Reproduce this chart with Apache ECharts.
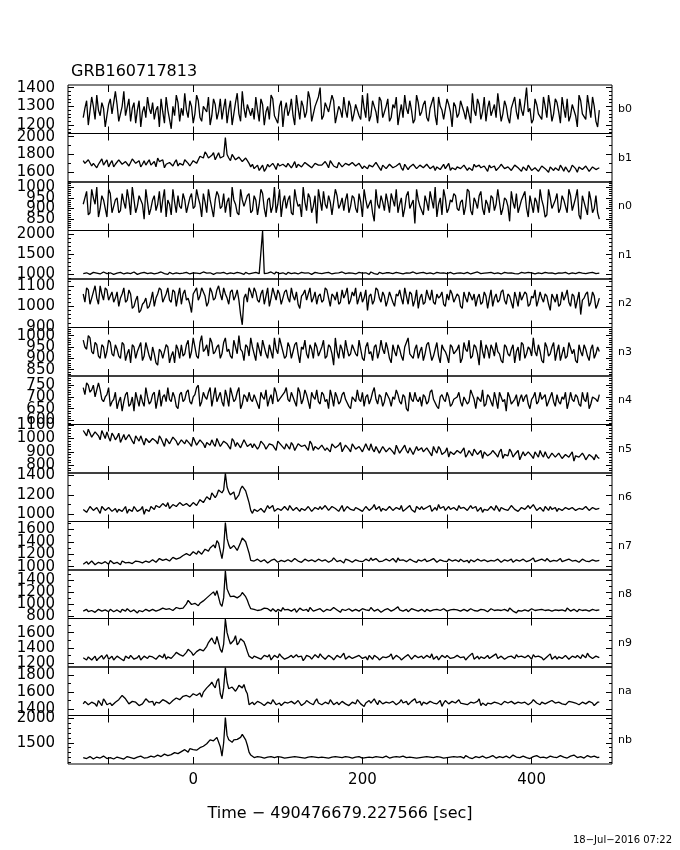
<!DOCTYPE html>
<html>
<head>
<meta charset="utf-8">
<script src="https://cdn.jsdelivr.net/npm/echarts@6/dist/echarts.min.js"></script>
<style>
html,body{margin:0;padding:0;background:#fff;}
#c{width:680px;height:850px;}
</style>
</head>
<body>
<div id="c"></div>
<script>
// ---- data ----
const title = 'GRB160717813';
const xTitle = 'Time \u2212 490476679.227566 [sec]';
const dateText = '18\u2212Jul\u22122016 07:22';
const detectors = ['b0','b1','n0','n1','n2','n3','n4','n5','n6','n7','n8','n9','na','nb'];
// Rates are stored as two interleaved bin sets:
//   "A" arrays: bins at t = -130, -126, ..., 478 s
//   "B" arrays: bins at t = -128, -124, ..., 480 s
const tStartA = -130, tStartB = -128, tStep = 4;
const xMin = -148, xMax = 495;
const xTickValues = [-100, 0, 100, 200, 300, 400];
const xLabelValues = [0, 200, 400];

const yMin = [1155, 1490, 797, 875, 897, 822, 583, 741, 926, 946, 757, 1147, 1322, 1069];
const yMax = [1414, 2036, 1024, 2082, 1133, 1036, 789, 1105, 1424, 1726, 1564, 1787, 1898, 2054];
const yLabels = [
  [1200,1300,1400],
  [1600,1800,2000],
  [850,900,950,1000],
  [1000,1500,2000],
  [900,1000,1100],
  [850,900,950,1000],
  [600,650,700,750],
  [800,900,1000,1100],
  [1000,1200,1400],
  [1000,1200,1400,1600],
  [800,1000,1200,1400],
  [1200,1400,1600],
  [1400,1600,1800],
  [1500,2000]
];
const yMinorStep = [20,100,10,100,20,10,10,20,100,100,100,100,100,100];

const b0A = [1240,1330,1210,1300,1360,1250,1290,1200,1340,1270,
1310,1230,1380,1260,1220,1320,1280,1190,1300,1350,
1260,1230,1300,1340,1210,1280,1180,1250,1320,1290,
1370,1240,1300,1260,1330,1220,1290,1350,1250,1310,
1270,1230,1340,1280,1200,1320,1260,1380,1240,1300,
1290,1350,1220,1310,1270,1230,1340,1260,1300,1190,
1320,1280,1250,1360,1230,1300,1270,1340,1210,1290,
1400,1250,1310,1270,1330,1220,1280,1350,1240,1300,
1260,1320,1230,1290,1370,1250,1300,1210,1330,1270,
1340,1240,1290,1200,1310,1360,1260,1280,1230,1320,
1270,1330,1220,1300,1250,1350,1280,1240,1310,1190,
1300,1260,1340,1230,1290,1370,1250,1310,1270,1220,
1330,1280,1240,1360,1260,1300,1210,1320,1270,1340,
1250,1400,1290,1230,1310,1270,1350,1240,1300,1260,
1320,1210,1290,1340,1250,1300,1190,1330,1270,1360,
1240,1300,1190];
const b0B = [1290,1200,1350,1230,1280,1320,1190,1310,1260,1380,
1220,1300,1250,1340,1290,1210,1330,1270,1240,1290,
1320,1280,1190,1270,1350,1230,1300,1360,1220,1250,
1280,1330,1210,1360,1240,1300,1270,1200,1340,1230,
1340,1290,1210,1330,1260,1370,1220,1290,1310,1250,
1230,1280,1340,1200,1300,1360,1250,1210,1330,1280,
1250,1340,1200,1290,1330,1240,1380,1220,1300,1350,
1230,1320,1270,1360,1210,1300,1240,1280,1330,1220,
1310,1250,1360,1240,1220,1330,1270,1350,1240,1300,
1220,1310,1350,1260,1240,1290,1330,1210,1360,1250,
1310,1240,1290,1350,1200,1300,1230,1340,1270,1320,
1240,1330,1270,1300,1210,1280,1340,1230,1350,1290,
1250,1310,1370,1220,1330,1240,1290,1350,1230,1280,
1320,1270,1210,1340,1260,1230,1300,1360,1220,1340,
1270,1350,1240,1220,1310,1250,1360,1260,1230,1300,
1350,1220,1280];

const b1A = [1730,1690,1760,1700,1650,1720,1680,1740,1700,1660,
1710,1750,1680,1720,1690,1740,1700,1660,1730,1710,
1680,1720,1760,1700,1650,1690,1730,1710,1670,1720,
1740,1700,1690,1750,1720,1800,1830,1760,1790,1740,
1820,1770,1990,1760,1800,1740,1770,1720,1760,1700,
1690,1650,1620,1680,1640,1660,1700,1630,1670,1690,
1660,1710,1680,1650,1700,1670,1720,1680,1640,1690,
1700,1660,1690,1730,1670,1650,1700,1680,1720,1660,
1690,1650,1710,1670,1640,1690,1660,1700,1620,1680,
1660,1700,1640,1680,1650,1690,1630,1670,1700,1650,
1670,1630,1690,1650,1620,1680,1660,1640,1700,1650,
1630,1670,1640,1690,1650,1620,1660,1680,1630,1650,
1680,1640,1620,1660,1690,1630,1650,1610,1670,1640,
1660,1620,1680,1640,1650,1600,1670,1630,1660,1620,
1640,1680,1610,1650,1630,1670,1600,1660,1640,1690,
1620,1670,1640];
const b1B = [1700,1740,1670,1720,1690,1750,1710,1660,1730,1690,
1740,1690,1720,1670,1750,1700,1730,1690,1680,1740,
1700,1660,1720,1740,1690,1710,1670,1740,1700,1680,
1720,1670,1730,1700,1780,1760,1800,1740,1820,1780,
1760,1780,1800,1730,1780,1720,1750,1700,1730,1660,
1640,1680,1650,1610,1690,1640,1670,1700,1650,1680,
1700,1650,1720,1690,1660,1710,1680,1650,1700,1680,
1680,1720,1650,1700,1690,1710,1660,1700,1680,1710,
1670,1700,1640,1690,1680,1660,1710,1650,1680,1640,
1690,1650,1670,1700,1620,1680,1660,1690,1640,1680,
1650,1690,1640,1670,1660,1630,1690,1660,1620,1670,
1660,1640,1680,1620,1670,1690,1640,1650,1670,1610,
1650,1670,1630,1690,1640,1660,1620,1680,1650,1610,
1640,1680,1620,1650,1610,1670,1640,1600,1680,1650,
1620,1650,1660,1600,1680,1640,1660,1630,1670,1610,
1660,1630,1650];

const n0A = [920,980,880,950,1000,900,940,860,970,910,
950,890,930,990,870,940,910,960,850,930,
900,960,920,880,990,940,870,930,960,900,
940,880,970,910,950,860,930,990,900,940,
960,910,880,950,1000,920,870,940,910,970,
890,940,920,970,860,950,910,880,990,930,
900,960,870,940,920,1000,890,950,910,830,
940,980,900,930,870,960,920,890,970,910,
950,880,930,990,900,940,840,920,960,890,
930,970,910,880,950,900,980,920,830,940,
910,960,890,940,1000,920,870,950,900,930,
960,890,940,910,980,870,930,960,900,940,
880,950,920,990,900,940,840,930,970,910,
940,900,960,880,930,990,910,870,950,920,
970,900,940,880,960,920,990,850,930,870,
940,900,880];
const n0B = [950,870,990,920,860,960,900,990,880,940,
880,970,900,940,1000,880,960,920,990,870,
940,890,980,940,860,920,990,880,910,970,
880,950,900,990,920,970,880,940,860,980,
900,970,930,860,940,880,990,910,960,880,
960,870,990,900,940,880,1000,920,860,960,
940,880,990,910,860,930,970,880,960,990,
890,920,960,870,990,900,950,940,880,960,
900,970,860,940,920,880,990,900,930,970,
880,940,990,920,860,960,900,940,990,910,
870,930,980,900,860,950,990,880,940,970,
900,930,870,990,890,950,900,980,870,920,
960,890,990,870,950,910,980,900,880,940,
980,860,920,950,880,940,860,990,900,940,
880,960,910,990,890,950,870,960,900,980,
880,960,850];

const n1A = [1010,1030,990,1040,1020,1000,1050,1010,1030,990,
1020,1040,1000,1030,1010,1050,990,1020,1040,1010,
1030,1000,1020,1050,1010,990,1030,1020,1000,1040,
1010,1030,1020,990,1040,1010,1030,1000,1050,1020,
1000,1030,1010,1040,1020,990,1030,1010,1040,1000,
1020,1040,1010,2070,1000,1030,1020,1050,1010,1030,
990,1030,1020,1040,1010,1000,1050,1020,1030,1010,
1040,1000,1020,1030,990,1050,1010,1030,1020,1000,
1030,1010,1040,1000,1020,1050,1010,990,1030,1020,
1010,1040,1000,1030,1020,990,1040,1010,1030,1000,
1020,1050,1010,1030,1000,1040,1020,990,1030,1010,
1040,1000,1030,1010,1050,1020,990,1030,1010,1040,
1000,1030,1020,1060,1010,1030,990,1020,1040,1010,
1030,1010,1000,1040,1020,1030,990,1050,1010,1020,
1000,1040,1010,1030,1020,990,1030,1010,1040,1000,
1020,1030,1000];
const n1B = [1030,1000,1020,1040,990,1030,1010,1040,1000,1020,
1040,1010,1030,990,1020,1040,1010,1030,1000,1050,
1010,1040,990,1030,1020,1040,1000,1030,1010,1020,
1040,1000,1030,1020,1010,1050,1020,1030,990,1030,
1020,1040,1000,1030,1010,1040,1020,990,1030,1020,
1000,1030,1040,1010,1020,1050,1000,1030,1020,1000,
1040,1010,1030,1000,1040,1020,1030,990,1040,1020,
1010,1030,1040,1000,1020,1030,1050,1010,1030,1020,
1000,1040,1020,1030,990,1030,1020,1040,1010,1030,
1030,1010,1040,1020,1000,1030,1020,1050,1010,1030,
1040,1010,1030,1000,1040,1020,1030,1010,1040,1000,
1020,1030,1010,1040,1000,1030,1050,1010,1020,1030,
1040,1010,1030,1000,1040,1020,1030,1010,1000,1040,
1020,1040,1030,1000,1030,1010,1040,1020,1030,1000,
1030,1020,1040,1000,1030,1010,1040,1020,1010,1030,
1040,1010,1020];

const n2A = [1060,1090,1010,1070,1040,1100,1030,1080,1050,1020,
1070,1040,1090,1030,1060,1000,1050,980,1020,990,
1030,1000,1060,1080,1040,1090,1020,1070,1050,1010,
1080,1040,970,1060,1030,1090,1050,1020,1070,1040,
1100,1030,1060,1010,1080,1050,1030,910,1060,1090,
1040,1070,1020,1080,1050,1000,1090,1030,1060,1040,
1080,1020,1050,1070,990,1060,1030,1090,1040,1010,
1060,1030,1080,1000,1050,1070,1020,1040,1090,1030,
1050,1010,1070,1040,980,1060,1030,1080,1020,1050,
1030,1070,1000,1050,1040,1090,1010,1060,1030,990,
1060,1020,1050,1080,1010,1040,1070,1000,1030,1060,
1020,1050,990,1040,1070,1030,1000,1060,1020,1050,
1040,1000,1060,1030,1080,1010,1050,990,1040,1070,
1030,1060,1010,1040,1000,1070,1020,1050,980,1040,
1060,1010,1030,1080,1000,1050,1030,960,1040,1070,
1020,1050,1010];
const n2B = [1020,1080,1040,1100,1010,1060,1090,1030,1070,1040,
1000,1060,1020,1080,990,1030,970,1010,1040,1000,
1070,1040,1090,1020,1060,1030,1080,1000,1090,1060,
1030,1010,1060,1090,1050,1070,1000,1090,1030,1080,
1060,1090,1040,1070,1030,1080,960,1040,1020,1070,
1090,1030,1060,1010,1090,1040,1060,1080,1010,1070,
1040,1090,1030,1010,1050,1080,1060,1020,1070,1050,
1020,1090,1040,1060,1030,1010,1080,1060,1010,1070,
1090,1040,1020,1080,1050,1010,1090,1040,1070,1000,
1070,1020,1060,1080,1010,1050,1070,1000,1080,1040,
1010,1080,1030,1020,1060,1050,1010,1060,1080,1020,
1060,1000,1070,1020,1050,1060,1040,1010,1070,990,
1080,1040,1020,1070,1030,1060,1020,1070,1000,1030,
1070,1000,1050,1080,1030,1040,1060,1010,1060,1020,
1000,1070,1050,1020,1060,990,1070,1030,1060,1000,
1070,990,1040];

const n3A = [980,940,990,920,960,900,950,930,970,910,
940,900,960,920,880,950,930,970,910,940,
890,920,870,930,900,950,910,880,940,960,
920,980,930,950,900,1000,940,910,970,930,
960,920,990,940,900,950,1000,930,960,910,
950,890,940,980,920,960,900,940,990,930,
910,950,930,970,880,940,920,960,900,950,
930,980,910,950,870,930,960,900,940,920,
960,910,940,890,970,930,950,900,980,920,
940,880,930,960,910,950,990,920,940,900,
950,920,970,890,940,910,960,930,880,950,
920,960,900,940,980,910,950,870,930,960,
900,940,970,920,880,950,910,960,930,890,
960,920,940,990,910,930,880,950,920,970,
930,890,950,910,970,940,880,930,960,910,
940,900,950];
const n3B = [950,1000,930,970,910,960,900,980,920,960,
910,970,890,940,960,900,950,890,970,910,
950,880,940,900,960,880,930,960,900,910,
960,900,990,910,970,930,960,990,920,950,
900,970,930,910,980,920,940,890,950,990,
920,970,910,950,900,930,990,920,960,900,
970,900,960,920,950,980,900,940,970,910,
950,900,960,920,990,900,940,980,910,960,
920,980,900,950,920,890,960,930,940,970,
900,960,910,940,890,970,920,900,960,930,
890,960,930,910,970,880,940,910,960,920,
940,880,970,930,900,960,920,980,900,940,
960,910,930,890,960,920,940,880,950,970,
900,950,910,930,960,890,970,910,950,890,
960,920,900,970,920,890,960,910,940,890,
960,920,930];

const n4A = [740,760,720,750,700,730,680,710,660,690,
650,700,680,720,670,640,690,710,660,700,
680,720,690,660,710,740,680,700,650,720,
690,730,670,710,750,680,700,720,660,740,
700,680,730,660,710,690,740,670,700,720,
680,710,650,700,730,690,670,720,680,700,
740,680,700,660,720,690,710,650,700,730,
670,710,690,730,660,700,680,720,690,650,
700,730,680,660,710,690,740,670,700,680,
720,660,690,710,670,700,640,690,720,680,
660,700,680,730,690,650,710,680,700,670,
690,720,660,700,680,710,650,690,730,670,
700,660,690,720,680,640,700,670,710,690,
680,710,650,700,670,720,690,660,700,680,
710,670,690,650,720,680,700,660,690,720,
670,700,680];
const n4B = [710,750,730,700,760,690,700,740,680,720,
680,640,710,660,700,720,660,680,740,670,
710,650,730,700,680,690,720,660,710,680,
720,680,700,740,660,720,690,740,700,680,
720,660,700,740,680,720,650,710,680,690,
710,670,720,690,660,710,740,680,700,720,
690,720,680,740,670,730,680,720,690,680,
720,680,650,700,720,670,710,690,660,700,
680,690,720,700,670,720,690,710,660,720,
690,700,730,680,710,650,720,680,690,700,
710,670,720,690,660,700,690,720,660,690,
700,680,700,670,730,690,700,680,660,710,
680,720,650,700,690,720,670,690,660,710,
700,670,690,720,680,690,710,680,720,660,
680,700,720,680,690,710,670,720,680,650,
700,690,710];

const n5A = [1060,1020,1070,1000,1040,990,1030,1050,980,1020,
1010,970,1030,990,1040,960,1000,1020,950,990,
980,1010,960,1000,940,990,970,1010,950,990,
960,1000,940,980,950,1000,930,970,990,940,
970,930,990,950,1000,940,960,920,980,950,
930,970,940,990,920,960,950,910,970,940,
960,920,950,900,970,930,940,980,910,950,
920,960,930,900,950,920,970,910,940,900,
940,910,950,890,930,960,900,930,880,920,
910,940,880,920,900,950,890,920,870,910,
930,890,920,870,910,940,880,900,860,910,
880,920,890,860,910,870,930,890,850,900,
870,910,880,900,850,890,920,860,880,840,
900,860,890,850,880,910,860,870,840,890,
860,880,840,890,860,830,880,850,870,830,
870,840,860];
const n5B = [1040,1070,1010,1050,1020,1060,1000,1010,1040,990,
1040,1000,990,1030,980,1020,980,1030,1000,970,
1000,980,1020,970,1000,960,1010,980,970,1000,
990,960,1010,950,990,960,970,950,960,1000,
940,980,960,920,980,970,930,990,940,960,
960,920,980,950,940,970,930,980,950,920,
940,970,910,960,940,950,910,960,940,920,
950,910,940,960,930,950,900,950,920,960,
920,940,900,960,910,920,940,890,940,900,
930,900,950,890,930,910,930,880,940,900,
900,930,890,940,890,920,870,930,900,880,
910,890,930,880,900,920,880,910,900,870,
890,900,860,920,880,870,900,880,910,870,
870,900,870,900,860,880,900,850,890,860,
890,850,880,860,900,870,860,890,840,880,
860,880,850];

const n6A = [1050,1020,1080,1040,1070,1010,1060,1030,1090,1040,
1020,1070,1040,1010,1060,1080,1030,1050,1000,1060,
1080,1050,1100,1060,1090,1120,1070,1100,1060,1110,
1090,1130,1100,1140,1110,1160,1130,1190,1220,1170,
1250,1220,1420,1230,1180,1150,1200,1290,1240,1120,
1010,1070,1040,1080,1030,1060,1090,1040,1070,1020,
1060,1090,1040,1070,1030,1080,1050,1100,1040,1060,
1080,1030,1070,1050,1100,1040,1060,1030,1080,1050,
1040,1090,1060,1030,1070,1050,1100,1060,1030,1080,
1050,1070,1030,1060,1090,1040,1070,1050,1020,1060,
1080,1040,1060,1030,1070,1100,1050,1040,1080,1030,
1060,1090,1040,1070,1030,1060,1080,1050,1020,1070,
1040,1060,1090,1030,1070,1050,1030,1080,1060,1040,
1070,1030,1060,1100,1040,1070,1030,1060,1080,1050,
1030,1070,1050,1080,1040,1060,1020,1070,1050,1080,
1040,1060,1030];
const n6B = [1070,1040,1060,1020,1050,1080,1040,1070,1030,1060,
1050,1030,1080,1050,1030,1060,1040,1080,1050,1030,
1060,1090,1070,1110,1080,1060,1100,1080,1120,1090,
1110,1080,1120,1090,1150,1120,1180,1150,1240,1200,
1270,1250,1280,1200,1230,1170,1260,1300,1180,1040,
1050,1030,1060,1020,1090,1050,1030,1060,1040,1080,
1040,1070,1050,1090,1060,1040,1080,1030,1070,1050,
1050,1090,1040,1080,1060,1030,1090,1050,1060,1030,
1070,1050,1030,1080,1040,1070,1050,1080,1060,1040,
1080,1040,1070,1050,1030,1060,1090,1030,1080,1050,
1050,1070,1090,1050,1040,1060,1080,1060,1050,1070,
1040,1060,1070,1040,1090,1050,1030,1070,1050,1040,
1080,1040,1060,1070,1050,1040,1090,1050,1030,1070,
1050,1090,1040,1070,1060,1050,1080,1040,1050,1070,
1060,1040,1070,1050,1070,1040,1060,1050,1080,1040,
1070,1050,1060];

const n7A = [1040,1080,1020,1070,1050,1090,1030,1060,1100,1050,
1070,1030,1080,1050,1090,1040,1070,1110,1060,1080,
1090,1120,1080,1140,1110,1150,1100,1170,1130,1160,
1190,1230,1170,1220,1250,1200,1280,1250,1320,1300,
1380,1130,1710,1350,1300,1320,1280,1460,1400,1220,
1130,1090,1120,1080,1110,1060,1100,1130,1070,1110,
1090,1120,1070,1130,1100,1060,1110,1080,1140,1090,
1110,1070,1120,1090,1140,1080,1100,1060,1120,1090,
1080,1130,1100,1070,1110,1140,1090,1120,1060,1100,
1120,1080,1110,1140,1070,1100,1090,1130,1080,1110,
1090,1120,1060,1100,1130,1080,1110,1070,1120,1090,
1110,1080,1140,1090,1060,1110,1100,1130,1070,1100,
1080,1120,1090,1110,1060,1130,1100,1070,1110,1090,
1120,1080,1100,1140,1090,1070,1110,1130,1080,1100,
1090,1130,1070,1100,1120,1080,1110,1090,1140,1100,
1080,1110,1090];
const n7B = [1060,1040,1090,1030,1070,1050,1080,1040,1070,1060,
1050,1090,1060,1070,1050,1090,1080,1060,1090,1070,
1110,1070,1130,1100,1120,1090,1150,1120,1140,1180,
1210,1180,1240,1200,1230,1230,1260,1300,1350,1420,
1250,1300,1450,1290,1340,1260,1390,1430,1310,1100,
1090,1120,1080,1110,1060,1100,1120,1070,1100,1080,
1110,1080,1130,1090,1070,1120,1090,1110,1080,1120,
1090,1110,1070,1100,1130,1090,1080,1120,1100,1070,
1110,1090,1080,1120,1090,1100,1130,1080,1090,1120,
1090,1130,1070,1100,1110,1080,1120,1090,1070,1120,
1110,1080,1100,1130,1070,1110,1090,1080,1100,1120,
1090,1120,1080,1100,1110,1080,1120,1090,1110,1080,
1100,1090,1120,1070,1110,1090,1120,1090,1080,1120,
1090,1110,1120,1080,1100,1120,1090,1110,1070,1120,
1110,1080,1100,1120,1090,1100,1070,1120,1090,1080,
1110,1090,1100];

const n8A = [880,910,860,900,870,920,850,890,910,870,
900,860,890,920,870,900,850,910,880,900,
890,920,880,910,940,900,930,910,950,920,
960,1060,990,1010,970,1030,1070,1120,1180,1140,
1230,960,1550,1180,1090,1150,1070,1190,1120,980,
900,930,880,910,950,890,920,870,910,940,
880,920,900,860,930,890,910,940,880,900,
920,870,910,890,940,900,860,920,890,910,
890,930,870,910,900,940,880,910,860,900,
920,880,910,950,890,900,870,920,900,880,
910,870,930,890,920,880,910,940,870,900,
890,920,880,900,860,930,900,870,910,890,
900,940,880,910,870,900,930,880,850,910,
880,910,890,930,870,900,920,880,910,890,
910,870,900,930,880,910,870,900,890,920,
880,900,890];
const n8B = [900,870,890,860,910,880,900,870,900,880,
870,910,880,900,880,920,890,870,910,880,
910,880,900,930,910,920,890,940,920,930,
1000,1030,980,990,1010,1050,1100,1150,1200,1220,
1000,1100,1250,1120,1130,1100,1140,1180,1060,920,
910,890,900,930,920,880,900,910,880,900,
910,880,920,890,900,920,870,910,900,890,
900,890,920,870,910,880,910,890,920,880,
910,880,920,900,890,910,870,930,890,910,
900,870,930,900,880,910,890,910,870,900,
890,910,880,900,910,890,920,880,900,910,
900,880,910,880,920,890,880,910,900,870,
920,890,900,890,910,880,900,910,890,880,
900,880,920,890,900,910,890,900,880,900,
890,900,880,910,900,880,910,890,900,880,
910,890,900];

const n9A = [1270,1240,1300,1260,1230,1280,1250,1310,1270,1240,
1290,1260,1230,1280,1300,1250,1270,1240,1290,1260,
1300,1270,1240,1290,1320,1280,1260,1310,1350,1330,
1300,1380,1340,1290,1360,1400,1380,1470,1530,1450,
1540,1340,1780,1520,1430,1560,1470,1500,1420,1290,
1260,1300,1270,1240,1290,1310,1260,1280,1320,1270,
1240,1290,1270,1310,1260,1230,1300,1280,1250,1290,
1320,1270,1250,1290,1240,1300,1270,1330,1260,1280,
1250,1290,1310,1260,1240,1280,1300,1270,1230,1290,
1270,1320,1260,1290,1240,1280,1310,1250,1300,1270,
1290,1250,1280,1320,1260,1240,1300,1270,1290,1250,
1280,1310,1260,1240,1290,1330,1270,1250,1300,1280,
1260,1290,1320,1250,1280,1240,1300,1270,1310,1260,
1290,1250,1280,1310,1260,1300,1240,1280,1320,1270,
1250,1290,1270,1310,1240,1280,1300,1260,1290,1330,
1270,1250,1290];
const n9B = [1250,1280,1240,1290,1260,1300,1270,1250,1290,1260,
1270,1240,1290,1260,1280,1240,1300,1260,1280,1290,
1280,1250,1300,1270,1250,1290,1280,1340,1310,1290,
1340,1360,1300,1350,1380,1360,1420,1500,1480,1550,
1380,1450,1600,1450,1500,1440,1520,1480,1350,1280,
1290,1270,1250,1300,1280,1240,1300,1270,1290,1250,
1270,1300,1250,1280,1290,1260,1290,1250,1310,1270,
1290,1250,1300,1270,1260,1290,1300,1250,1290,1260,
1280,1300,1260,1280,1300,1250,1290,1240,1280,1270,
1290,1250,1300,1270,1260,1300,1280,1270,1290,1250,
1260,1300,1270,1250,1290,1270,1280,1300,1260,1270,
1300,1270,1280,1260,1300,1250,1290,1280,1260,1300,
1270,1300,1260,1290,1250,1280,1290,1260,1280,1290,
1270,1300,1250,1280,1290,1270,1260,1300,1250,1290,
1280,1260,1300,1250,1290,1270,1280,1310,1270,1290,
1260,1290,1270];

const naA = [1460,1500,1440,1490,1430,1480,1520,1450,1470,1420,
1480,1530,1570,1490,1450,1500,1470,1430,1490,1510,
1460,1440,1500,1470,1520,1480,1450,1510,1540,1490,
1530,1570,1520,1600,1560,1540,1620,1670,1720,1650,
1760,1520,1890,1640,1660,1610,1680,1650,1620,1450,
1480,1440,1500,1460,1420,1490,1510,1450,1470,1430,
1490,1460,1510,1440,1480,1420,1500,1470,1450,1520,
1460,1430,1490,1510,1450,1480,1440,1500,1470,1420,
1480,1510,1460,1430,1490,1470,1520,1450,1480,1440,
1500,1460,1480,1430,1510,1470,1450,1490,1520,1460,
1440,1490,1470,1510,1450,1480,1430,1500,1460,1490,
1470,1510,1450,1480,1430,1490,1460,1520,1470,1440,
1490,1450,1500,1470,1430,1510,1460,1480,1440,1500,
1460,1490,1430,1510,1470,1450,1500,1440,1480,1520,
1450,1490,1470,1440,1510,1460,1480,1430,1500,1470,
1490,1440,1480];
const naB = [1490,1450,1480,1460,1500,1440,1490,1470,1440,1480,
1510,1560,1520,1460,1490,1480,1440,1460,1520,1480,
1490,1480,1470,1510,1490,1460,1500,1530,1510,1550,
1560,1540,1580,1560,1590,1600,1650,1690,1680,1730,
1580,1650,1720,1620,1650,1640,1660,1690,1580,1470,
1450,1490,1470,1440,1480,1460,1490,1470,1440,1480,
1470,1490,1460,1500,1440,1470,1490,1460,1490,1470,
1450,1480,1460,1490,1470,1450,1490,1460,1440,1480,
1460,1490,1440,1470,1500,1460,1480,1500,1460,1480,
1470,1490,1450,1480,1470,1490,1460,1480,1470,1490,
1480,1460,1490,1470,1460,1500,1470,1480,1440,1470,
1490,1470,1460,1450,1480,1470,1490,1440,1490,1470,
1460,1480,1470,1450,1490,1470,1490,1460,1480,1470,
1480,1450,1480,1490,1460,1480,1460,1480,1500,1470,
1480,1460,1450,1490,1480,1470,1450,1480,1460,1490,
1470,1460,1480];

const nbA = [1200,1180,1220,1170,1210,1190,1230,1180,1200,1170,
1210,1190,1170,1220,1200,1180,1210,1230,1190,1200,
1230,1210,1250,1220,1270,1240,1260,1300,1280,1320,
1360,1310,1400,1370,1340,1420,1450,1520,1580,1550,
1620,1230,2010,1560,1510,1600,1540,1670,1560,1310,
1220,1190,1240,1200,1180,1230,1210,1190,1240,1200,
1180,1220,1200,1230,1190,1210,1180,1240,1200,1190,
1220,1190,1210,1180,1230,1200,1220,1190,1240,1210,
1190,1230,1200,1180,1220,1210,1190,1240,1200,1220,
1210,1180,1230,1200,1250,1210,1190,1230,1200,1180,
1220,1200,1240,1190,1210,1230,1200,1180,1220,1210,
1190,1230,1210,1240,1200,1180,1220,1200,1230,1190,
1210,1240,1190,1220,1200,1230,1190,1250,1210,1200,
1230,1200,1180,1220,1240,1200,1210,1190,1230,1210,
1200,1240,1210,1190,1230,1250,1200,1220,1190,1240,
1210,1230,1200];
const nbB = [1190,1210,1190,1200,1180,1220,1200,1190,1180,1200,
1190,1180,1200,1210,1190,1200,1220,1200,1190,1220,
1220,1240,1230,1260,1240,1250,1290,1290,1300,1340,
1330,1380,1360,1350,1400,1430,1480,1560,1540,1610,
1420,1500,1650,1540,1560,1570,1610,1630,1450,1250,
1200,1220,1210,1190,1210,1220,1200,1220,1210,1190,
1200,1210,1220,1210,1200,1190,1210,1220,1210,1200,
1210,1200,1190,1210,1220,1210,1200,1220,1210,1190,
1210,1220,1190,1200,1210,1200,1220,1210,1200,1230,
1190,1210,1220,1210,1230,1200,1210,1200,1190,1200,
1210,1220,1210,1200,1220,1210,1190,1200,1210,1220,
1210,1220,1190,1220,1190,1200,1210,1220,1210,1200,
1220,1210,1200,1210,1210,1200,1220,1230,1200,1210,
1210,1190,1200,1230,1220,1210,1200,1210,1220,1200,
1220,1220,1200,1210,1240,1220,1210,1200,1210,1230,
1220,1210,1210];

const setA = [b0A,b1A,n0A,n1A,n2A,n3A,n4A,n5A,n6A,n7A,n8A,n9A,naA,nbA];
const setB = [b0B,b1B,n0B,n1B,n2B,n3B,n4B,n5B,n6B,n7B,n8B,n9B,naB,nbB];

// ---- build (t, rate) pairs by merging the two bin sets in time order ----
function mergeBins(a, b) {
  const out = [];
  for (let k = 0; k < Math.max(a.length, b.length); k++) {
    if (k < a.length) out.push([tStartA + k * tStep, a[k]]);
    if (k < b.length) out.push([tStartB + k * tStep, b[k]]);
  }
  return out;
}

// ---- layout ----
const FONT = 'DejaVu Sans';
const L = 68, R = 68, TOP = 85, H = 48.5;
function steps(a, b, s) {
  const out = [];
  for (let v = Math.ceil(a / s) * s; v <= b + 1e-9; v += s) out.push(v);
  return out;
}
const plain = v => String(v);
const grids = [], xAxes = [], yAxes = [], series = [];
const N = detectors.length;
const black = '#000';
for (let i = 0; i < N; i++) {
  grids.push({left: L, right: R, top: TOP + i * H, height: H, show: true,
    borderColor: black, borderWidth: 1, backgroundColor: 'transparent'});
  const isLast = i === N - 1;
  const xBase = {gridIndex: i, type: 'value', min: xMin, max: xMax,
    axisLine: {show: false, onZero: false}, splitLine: {show: false}};
  const xIndex = xAxes.length;
  xAxes.push(Object.assign({}, xBase, {position: 'bottom',
    axisTick: {show: true, inside: true, length: 7, customValues: xTickValues, lineStyle: {color: black, width: 1}},
    axisLabel: {show: isLast, customValues: xLabelValues, formatter: plain, color: black, fontFamily: FONT, fontSize: 15, margin: 9,
      showMinLabel: true, showMaxLabel: true},
    name: isLast ? xTitle : '', nameLocation: 'middle', nameGap: 42,
    nameTextStyle: {color: black, fontFamily: FONT, fontSize: 16}}));
  xAxes.push(Object.assign({}, xBase, {position: 'top',
    axisTick: {show: true, inside: true, length: 7, customValues: xTickValues, lineStyle: {color: black, width: 1}},
    axisLabel: {show: false}}));
  const minor = steps(yMin[i], yMax[i], yMinorStep[i]).filter(v => yLabels[i].indexOf(v) < 0);
  const yBase = {gridIndex: i, type: 'value', min: yMin[i], max: yMax[i],
    axisLine: {show: false, onZero: false}, splitLine: {show: false}};
  const yIndex = yAxes.length;
  // major ticks (left)
  yAxes.push(Object.assign({}, yBase, {position: 'left',
    axisTick: {show: true, inside: true, length: 6, customValues: yLabels[i], lineStyle: {color: black}},
    axisLabel: {show: false}}));
  // minor ticks (left)
  yAxes.push(Object.assign({}, yBase, {position: 'left',
    axisTick: {show: true, inside: true, length: 3, customValues: minor, lineStyle: {color: black}},
    axisLabel: {show: false}}));
  // one label axis per tick label so that overlapping labels are all kept
  yLabels[i].forEach(v => {
    yAxes.push(Object.assign({}, yBase, {position: 'left',
      axisTick: {show: false},
      axisLabel: {show: true, customValues: [v], formatter: plain, color: black, fontFamily: FONT, fontSize: 15, margin: 13,
        showMinLabel: true, showMaxLabel: true}}));
  });
  // right side
  yAxes.push(Object.assign({}, yBase, {position: 'right',
    axisTick: {show: true, inside: true, length: 6, customValues: yLabels[i], lineStyle: {color: black}},
    axisLabel: {show: false},
    name: detectors[i], nameLocation: 'middle', nameRotate: 0, nameGap: 6,
    nameTextStyle: {color: black, fontFamily: FONT, fontSize: 11, align: 'left', verticalAlign: 'middle'}}));
  yAxes.push(Object.assign({}, yBase, {position: 'right',
    axisTick: {show: true, inside: true, length: 3, customValues: minor, lineStyle: {color: black}},
    axisLabel: {show: false}}));
  series.push({type: 'line', xAxisIndex: xIndex, yAxisIndex: yIndex,
    data: mergeBins(setA[i], setB[i]),
    showSymbol: false, symbol: 'none', clip: true, silent: true,
    lineStyle: {color: black, width: 1.3}, animation: false});
}

const chart = echarts.init(document.getElementById('c'), null, {renderer: 'canvas'});
chart.setOption({
  backgroundColor: '#fff',
  animation: false,
  title: [
    {text: title, left: 66, top: 59, textStyle: {color: black, fontFamily: FONT, fontSize: 16, fontWeight: 'normal'}},
    {text: dateText, right: 3, top: 830, textStyle: {color: black, fontFamily: FONT, fontSize: 10, fontWeight: 'normal'}}
  ],
  grid: grids,
  xAxis: xAxes,
  yAxis: yAxes,
  series: series
});
</script>
</body>
</html>
